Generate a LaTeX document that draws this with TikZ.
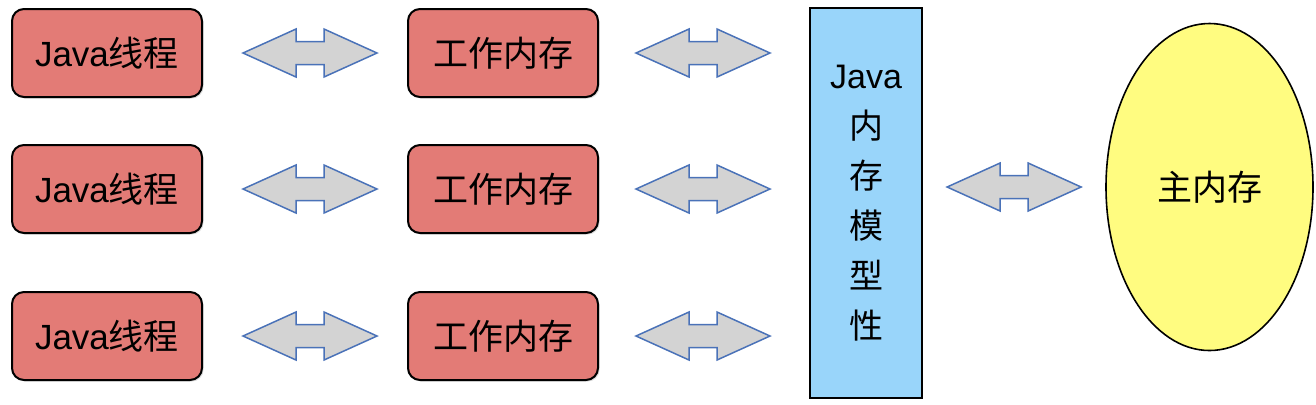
\documentclass[tikz,border=0pt]{standalone}
\usepackage{fontspec}
\setmainfont{Liberation Sans}
\newfontfamily\cjk{Noto Sans CJK SC}
\newcommand{\zh}[1]{{\cjk #1}}
\usetikzlibrary{shapes.geometric,shadows,calc}
\definecolor{threadred}{RGB}{227,123,118}
\definecolor{jmmblue}{RGB}{153,213,250}
\definecolor{mainyellow}{RGB}{255,252,128}
\definecolor{arrowgray}{RGB}{211,211,211}
\definecolor{arrowblue}{RGB}{74,114,184}

\begin{document}
\begin{tikzpicture}[x=0.5pt,y=-0.5pt,
	box/.style={draw,line width=1pt,rounded corners=6pt,fill=threadred,
		minimum width=95pt,minimum height=44pt,inner sep=0pt,
		font=\fontsize{17.5}{20}\selectfont,
		drop shadow={shadow xshift=0.8pt,shadow yshift=-0.8pt,opacity=0.25}},
	jmm/.style={draw,line width=1pt,fill=jmmblue,minimum width=56pt,
		minimum height=195pt,inner sep=0pt,align=center,
		font=\fontsize{17}{25}\selectfont,
		drop shadow={shadow xshift=0.6pt,shadow yshift=-0.6pt,opacity=0.2}},
	mainmem/.style={draw,line width=0.8pt,ellipse,fill=mainyellow,
		minimum width=103.5pt,minimum height=163.5pt,inner sep=0pt,
		font=\fontsize{17.5}{20}\selectfont},
	biarrow/.pic={
		\draw[line width=0.75pt,draw=arrowblue,fill=arrowgray]
			(-67,0) -- (-14,-24) -- (-14,-11.5) -- (14,-11.5) -- (14,-24)
			-- (67,0) -- (14,24) -- (14,11.5) -- (-14,11.5) -- (-14,24) -- cycle;
	}]
	\useasboundingbox (0,0) rectangle (1316,404);

	% threads and their working memories
	\foreach \i/\y in {1/53,2/189,3/336} {
		\node[box] (t\i) at (107,\y) {Java\zh{线程}};
		\node[box] (w\i) at (503,\y) {\zh{工作内存}};
	}

	\node[jmm] (jmm) at (866,203)
		{Java\\\zh{内}\\\zh{存}\\\zh{模}\\\zh{型}\\\zh{性}};
	\node[mainmem] (main) at (1209.5,187) {\zh{主内存}};

	% double arrows between the parts
	\foreach \i in {1,2,3} {
		\pic at ($(t\i.east)!0.5!(w\i.west)+(5,0)$) {biarrow};
		\pic at ($(w\i.east)!0.5!(w\i.east-|jmm.west)+(-1,0)$) {biarrow};
	}
	\pic at ($(jmm.east|-main)!0.5!(main.west)$) {biarrow};
\end{tikzpicture}
\end{document}
